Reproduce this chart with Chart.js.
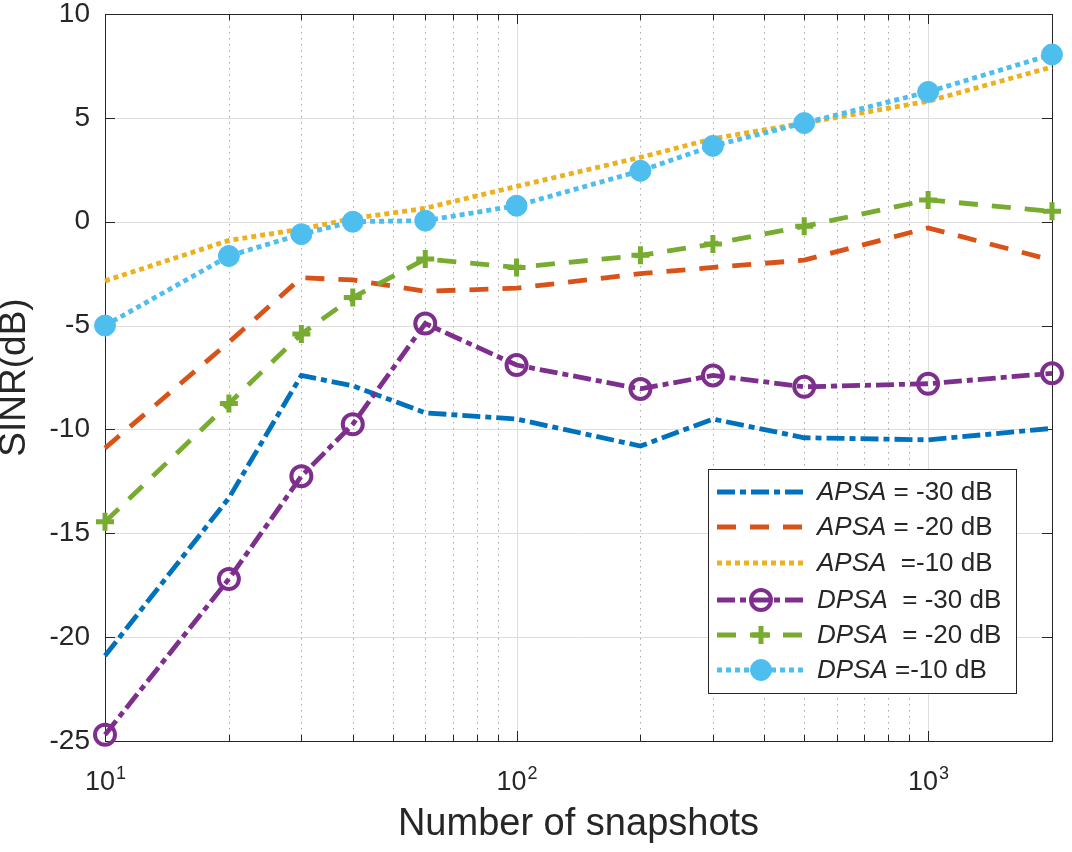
<!DOCTYPE html>
<html>
<head>
<meta charset="utf-8">
<script src="https://cdn.jsdelivr.net/npm/chart.js@4"></script>
<style>
  html, body { margin: 0; padding: 0; background: #fff; }
  #wrap { width: 1072px; height: 852px; position: relative; }
</style>
</head>
<body>
<div id="wrap"><canvas id="sinrChart"></canvas></div>
<script>
// Data
const snapshots = [10, 20, 30, 40, 60, 100, 200, 300, 500, 1000, 2000];
const apsa30 = [-20.9, -13.3, -7.4, -7.9, -9.2, -9.5, -10.8, -9.5, -10.4, -10.5, -9.95];
const apsa20 = [-10.9, -5.8, -2.7, -2.8, -3.35, -3.2, -2.5, -2.2, -1.85, -0.3, -1.85];
const apsa10 = [-2.85, -0.9, -0.35, 0.15, 0.65, 1.7, 3.1, 4.0, 4.75, 5.8, 7.45];
const dpsa30 = [-24.7, -17.2, -12.25, -9.75, -4.9, -6.9, -8.05, -7.4, -7.95, -7.8, -7.3];
const dpsa20 = [-14.45, -8.75, -5.4, -3.65, -1.8, -2.2, -1.62, -1.07, -0.22, 1.05, 0.5];
const dpsa10 = [-5.0, -1.65, -0.6, 0.0, 0.05, 0.77, 2.45, 3.65, 4.75, 6.25, 8.05];

const yTicks = [-25, -20, -15, -10, -5, 0, 5, 10];
const xMajor = [10, 100, 1000];
const xMajorExp = ['1', '2', '3'];
const xMinor = [20, 30, 40, 50, 60, 70, 80, 90, 200, 300, 400, 500, 600, 700, 800, 900, 2000];

const legendNames = ['APSA', 'APSA', 'APSA', 'DPSA', 'DPSA', 'DPSA'];
const legendRest = [' = -30 dB', ' = -20 dB', '  =-10 dB', '  = -30 dB', '  = -20 dB', ' =-10 dB'];

const FONT = '"Liberation Sans", Arial, Helvetica, sans-serif';
const TXT = '#262626';

const toPts = arr => snapshots.map((x, i) => ({ x: x, y: arr[i] }));

const series = [
    { data: apsa30, color: '#0072BD', dash: [18, 5, 6, 5], style: false, radius: 0 },
    { data: apsa20, color: '#D95319', dash: [19, 14], style: false, radius: 0 },
    { data: apsa10, color: '#EDB120', dash: [5, 4], style: false, radius: 0 },
    { data: dpsa30, color: '#7E2F8E', dash: [18, 5, 6, 5], style: 'circle', radius: 10, fill: 'rgba(0,0,0,0)', bw: 4 },
    { data: dpsa20, color: '#77AC30', dash: [19, 14], style: 'cross', radius: 9, fill: '#77AC30', bw: 5 },
    { data: dpsa10, color: '#4DBEEE', dash: [5, 4], style: 'circle', radius: 10.5, fill: '#4DBEEE', bw: 1 }
];

const datasets = series.map((s, i) => ({
    label: legendNames[i] + legendRest[i],
    data: toPts(s.data),
    borderColor: s.color,
    borderWidth: 4.8,
    borderDash: s.dash,
    borderCapStyle: 'butt',
    pointStyle: s.style || 'circle',
    pointRadius: s.radius,
    pointBackgroundColor: s.fill || s.color,
    pointBorderColor: s.color,
    pointBorderWidth: s.bw || 1,
    tension: 0,
    clip: false,
    order: 6 - i
}));

// axes box, grid and inward ticks, like the matlab figure
const gridPlugin = {
    id: 'gridBox',
    beforeDatasetsDraw(chart) {
        const { ctx, chartArea: a, scales: { x, y } } = chart;
        ctx.save();
        ctx.lineWidth = 1;

        // horizontal grid
        ctx.strokeStyle = '#dedede';
        yTicks.slice(1, -1).forEach(v => {
            const py = Math.round(y.getPixelForValue(v)) + 0.5;
            ctx.beginPath(); ctx.moveTo(a.left, py); ctx.lineTo(a.right, py); ctx.stroke();
        });
        // major vertical grid
        xMajor.slice(1).forEach(v => {
            const px = Math.round(x.getPixelForValue(v)) + 0.5;
            ctx.beginPath(); ctx.moveTo(px, a.top); ctx.lineTo(px, a.bottom); ctx.stroke();
        });
        // minor vertical grid (dotted)
        ctx.strokeStyle = '#a8a8a8';
        ctx.setLineDash([1.5, 4.5]);
        xMinor.slice(0, -1).forEach(v => {
            const px = Math.round(x.getPixelForValue(v)) + 0.5;
            ctx.beginPath(); ctx.moveTo(px, a.top); ctx.lineTo(px, a.bottom); ctx.stroke();
        });
        ctx.setLineDash([]);

        // box
        ctx.strokeStyle = TXT;
        ctx.strokeRect(a.left + 0.5, a.top + 0.5, a.right - a.left, a.bottom - a.top);

        // ticks
        ctx.beginPath();
        yTicks.forEach(v => {
            const py = Math.round(y.getPixelForValue(v)) + 0.5;
            ctx.moveTo(a.left, py); ctx.lineTo(a.left + 10, py);
            ctx.moveTo(a.right, py); ctx.lineTo(a.right - 10, py);
        });
        xMajor.forEach(v => {
            const px = Math.round(x.getPixelForValue(v)) + 0.5;
            ctx.moveTo(px, a.bottom); ctx.lineTo(px, a.bottom - 10);
            ctx.moveTo(px, a.top); ctx.lineTo(px, a.top + 10);
        });
        xMinor.forEach(v => {
            const px = Math.round(x.getPixelForValue(v)) + 0.5;
            ctx.moveTo(px, a.bottom); ctx.lineTo(px, a.bottom - 6);
            ctx.moveTo(px, a.top); ctx.lineTo(px, a.top + 6);
        });
        ctx.stroke();

        // x tick labels as 10 with a raised exponent
        ctx.fillStyle = TXT;
        ctx.textBaseline = 'alphabetic';
        xMajor.forEach((v, i) => {
            const px = x.getPixelForValue(v);
            ctx.font = '27px ' + FONT;
            const wBase = ctx.measureText('10').width;
            ctx.font = '18px ' + FONT;
            const wExp = ctx.measureText(xMajorExp[i]).width;
            const x0 = px - (wBase + wExp) / 2;
            ctx.font = '27px ' + FONT;
            ctx.fillText('10', x0, a.bottom + 49);
            ctx.font = '18px ' + FONT;
            ctx.fillText(xMajorExp[i], x0 + wBase + 1, a.bottom + 38);
        });
        ctx.restore();
    }
};

// legend box inside the axes, bottom right
const legendPlugin = {
    id: 'boxLegend',
    afterDatasetsDraw(chart) {
        const ctx = chart.ctx;
        const bx = 708, by = 469, bw = 308, bh = 224;
        const rowY = [492, 527, 563, 600, 635, 670];
        ctx.save();
        ctx.fillStyle = '#fff';
        ctx.fillRect(bx, by, bw, bh);
        ctx.strokeStyle = TXT;
        ctx.lineWidth = 1;
        ctx.strokeRect(bx + 0.5, by + 0.5, bw, bh);

        series.forEach((s, i) => {
            const ly = rowY[i];
            ctx.strokeStyle = s.color;
            ctx.lineWidth = 4.8;
            ctx.lineCap = 'butt';
            ctx.setLineDash(s.dash);
            ctx.beginPath(); ctx.moveTo(717, ly); ctx.lineTo(805, ly); ctx.stroke();
            ctx.setLineDash([]);
            if (s.style === 'circle') {
                ctx.fillStyle = s.fill;
                ctx.lineWidth = s.bw;
                ctx.beginPath(); ctx.arc(761, ly, s.radius, 0, Math.PI * 2);
                ctx.fill(); ctx.stroke();
            } else if (s.style === 'cross') {
                ctx.lineWidth = s.bw;
                ctx.beginPath();
                ctx.moveTo(761 - s.radius, ly); ctx.lineTo(761 + s.radius, ly);
                ctx.moveTo(761, ly - s.radius); ctx.lineTo(761, ly + s.radius);
                ctx.stroke();
            }
            ctx.fillStyle = TXT;
            ctx.textBaseline = 'middle';
            ctx.font = 'italic 26px ' + FONT;
            ctx.fillText(legendNames[i], 817, ly + 1);
            const w = ctx.measureText(legendNames[i]).width;
            ctx.font = '26px ' + FONT;
            ctx.fillText(legendRest[i], 817 + w, ly + 1);
        });
        ctx.restore();
    }
};

new Chart(document.getElementById('sinrChart').getContext('2d'), {
    type: 'line',
    data: { datasets: datasets },
    options: {
        responsive: true,
        maintainAspectRatio: false,
        animation: false,
        events: [],
        layout: { padding: { top: 13, right: 20, left: 0, bottom: 0 } },
        plugins: {
            legend: { display: false },
            tooltip: { enabled: false }
        },
        scales: {
            x: {
                type: 'logarithmic',
                min: 10,
                max: 2000,
                grid: { display: false },
                border: { display: false },
                afterBuildTicks: scale => {
                    scale.ticks = xMajor.map(v => ({ value: v }));
                },
                afterFit: scale => {
                    scale.height = 111;
                    scale.paddingLeft = 0;
                    scale.paddingRight = 0;
                },
                ticks: { display: false },
                title: {
                    display: true,
                    text: 'Number of snapshots',
                    color: TXT,
                    font: { family: FONT, size: 38 },
                    padding: { top: 0, bottom: 5 }
                }
            },
            y: {
                min: -25,
                max: 10,
                grid: { display: false },
                border: { display: false },
                afterBuildTicks: scale => {
                    scale.ticks = yTicks.map(v => ({ value: v }));
                },
                afterFit: scale => {
                    scale.width = 105;
                    scale.paddingTop = 0;
                    scale.paddingBottom = 0;
                },
                ticks: {
                    padding: 7,
                    color: TXT,
                    font: { family: FONT, size: 28 }
                },
                title: {
                    display: true,
                    text: 'SINR(dB)',
                    color: TXT,
                    font: { family: FONT, size: 37, lineHeight: 0.8 },
                    padding: { top: 0, bottom: 0 }
                }
            }
        }
    },
    plugins: [gridPlugin, legendPlugin]
});
</script>
</body>
</html>
